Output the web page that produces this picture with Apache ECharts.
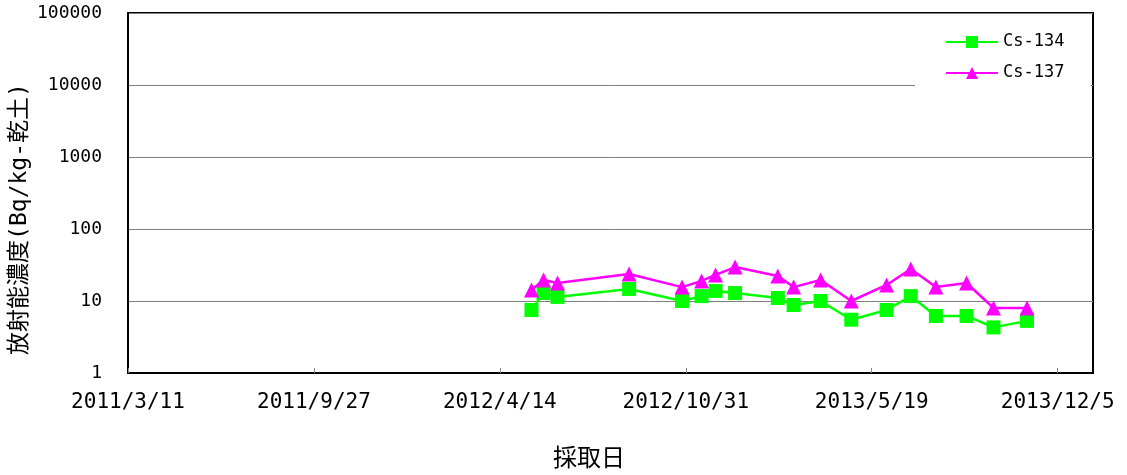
<!DOCTYPE html>
<html>
<head>
<meta charset="utf-8">
<script src="https://cdn.jsdelivr.net/npm/echarts@6/dist/echarts.min.js"></script>
<style>
html, body { margin: 0; padding: 0; background: #fff; }
#chart { width: 1127px; height: 475px; }
</style>
</head>
<body>
<div id="chart"></div>
<script>
// 採取日 and 濃度 (Bq/kg-乾土)
const sampleDates = [
  '2012/5/18', '2012/5/31', '2012/6/15', '2012/8/31', '2012/10/27',
  '2012/11/17', '2012/12/2', '2012/12/23', '2013/2/7', '2013/2/24',
  '2013/3/25', '2013/4/27', '2013/6/4', '2013/6/30', '2013/7/27',
  '2013/8/29', '2013/9/27', '2013/11/2'
];
const cs134 = [7.5, 12.9, 11.4, 14.7, 10, 11.7, 13.8, 12.9, 11, 8.8,
  10, 5.5, 7.5, 11.7, 6.2, 6.2, 4.3, 5.3];
const cs137 = [14.2, 19.6, 17.8, 23.7, 15.6, 19, 23, 29.6, 22.2, 15.6,
  19.6, 10, 16.7, 27.8, 15.6, 17.8, 8, 8];
const xTickDays = 200;   // 2011/3/11 から200日ごと
const yTicks = [1, 10, 100, 1000, 10000, 100000];

const origin = Date.UTC(2011, 2, 11);
function dayOf(s) {
  const [y, m, d] = s.split('/').map(Number);
  return Math.round((Date.UTC(y, m - 1, d) - origin) / 86400000);
}
function labelOf(v) {
  const t = new Date(origin + v * 86400000);
  return t.getUTCFullYear() + '/' + (t.getUTCMonth() + 1) + '/' + t.getUTCDate();
}

const jp = '"Noto Sans CJK JP", sans-serif';
const mono = '"DejaVu Sans Mono", "Noto Sans CJK JP", monospace';
const chart = echarts.init(document.getElementById('chart'));

chart.setOption({
  animation: false,
  backgroundColor: '#fff',
  textStyle: { fontFamily: mono, color: '#000' },
  grid: {
    left: 128, right: 34, top: 13, bottom: 102,
    show: true, borderColor: '#000', borderWidth: 2
  },
  legend: {
    orient: 'vertical',
    left: 915, top: 22,
    padding: [10, 26, 10, 30],
    backgroundColor: '#fff',
    itemWidth: 52, itemHeight: 15, itemGap: 11,
    textStyle: { fontSize: 17, color: '#000', fontFamily: mono, lineHeight: 20 },
    data: ['Cs-134', 'Cs-137']
  },
  xAxis: {
    type: 'value',
    min: 0, max: 1038, interval: xTickDays,
    axisLine: { lineStyle: { color: '#000', width: 2 } },
    axisTick: { inside: true, length: 5, lineStyle: { color: '#888' } },
    splitLine: { show: false },
    axisLabel: {
      fontSize: 21, fontFamily: mono, color: '#000', margin: 19, showMaxLabel: false,
      formatter: v => (v % xTickDays === 0 ? labelOf(v) : '')
    }
  },
  yAxis: {
    type: 'log', logBase: 10,
    min: yTicks[0], max: yTicks[yTicks.length - 1],
    axisLine: { lineStyle: { color: '#000', width: 2 } },
    axisTick: { show: false },
    splitLine: { lineStyle: { color: '#808080', width: 1 } },
    axisLabel: { fontSize: 18, fontFamily: mono, color: '#000', margin: 26, formatter: v => String(v) }
  },
  graphic: [
    {
      type: 'text', x: 20, y: 219, rotation: Math.PI / 2,
      style: {
        text: '放射能濃度(Bq/kg-乾土)', fontSize: 23, fontFamily: mono,
        fill: '#000', align: 'center', verticalAlign: 'middle'
      }
    },
    {
      type: 'text', x: 589, y: 457,
      style: {
        text: '採取日', fontSize: 24, fontFamily: jp,
        fill: '#000', align: 'center', verticalAlign: 'middle'
      }
    }
  ],
  series: [
    {
      name: 'Cs-134', type: 'line',
      data: sampleDates.map((d, i) => [dayOf(d), cs134[i]]),
      symbol: 'rect', symbolSize: 14,
      itemStyle: { color: '#00ff00' },
      lineStyle: { color: '#00ff00', width: 2.5 }
    },
    {
      name: 'Cs-137', type: 'line',
      data: sampleDates.map((d, i) => [dayOf(d), cs137[i]]),
      symbol: 'triangle', symbolSize: 15,
      itemStyle: { color: '#ff00ff' },
      lineStyle: { color: '#ff00ff', width: 2.5 }
    }
  ]
});
</script>
</body>
</html>
